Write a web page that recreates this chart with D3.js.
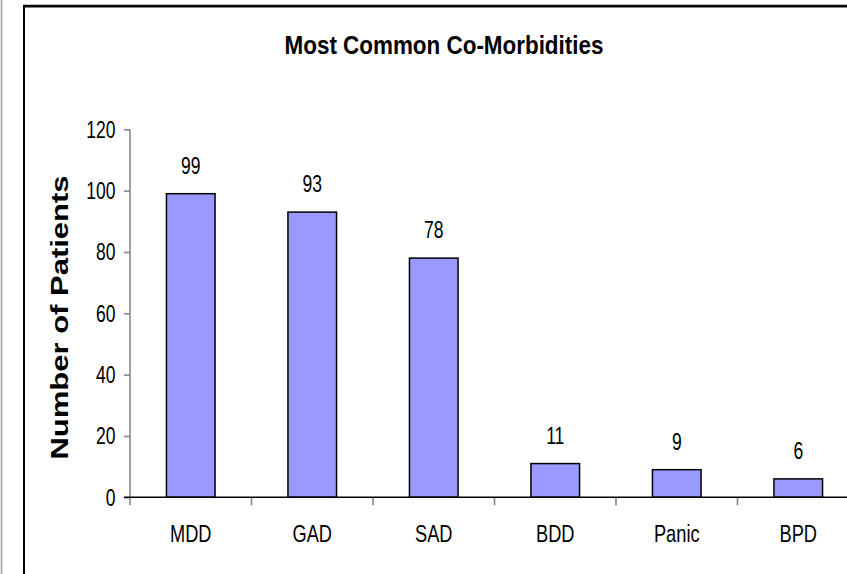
<!DOCTYPE html>
<html>
<head>
<meta charset="utf-8">
<script src="https://cdn.jsdelivr.net/npm/d3@7"></script>
<style>
  body { margin: 0; background: #fff; }
  text { font-family: "Liberation Sans", Arial, sans-serif; fill: #000; }
</style>
</head>
<body>
<svg id="chart" width="847" height="574"></svg>
<script>
// data
var categories = ["MDD", "GAD", "SAD", "BDD", "Panic", "BPD"];
var patients = [99, 93, 78, 11, 9, 6];
var yTicks = [0, 20, 40, 60, 80, 100, 120];

var svg = d3.select("#chart");

// outer frame bits
svg.append("line").attr("x1", 1.5).attr("x2", 1.5).attr("y1", 0).attr("y2", 574)
    .style("stroke", "#a0a0a0").style("stroke-width", 1.5);
svg.append("line").attr("x1", 24).attr("x2", 847).attr("y1", 7.5).attr("y2", 7.5)
    .style("stroke", "#b0b0b0").style("stroke-width", 1);
svg.append("line").attr("x1", 23).attr("x2", 847).attr("y1", 6).attr("y2", 6)
    .style("stroke", "#000").style("stroke-width", 2.5);
svg.append("line").attr("x1", 24).attr("x2", 24).attr("y1", 5).attr("y2", 574)
    .style("stroke", "#000").style("stroke-width", 2);

var x = d3.scaleBand().domain(categories).range([130, 859])
    .paddingInner(0.6).paddingOuter(0.3);
var y = d3.scaleLinear().domain([0, 120]).range([497.3, 129.3]);
var step = x.step();

// y axis
var yAxis = svg.append("g").attr("transform", "translate(130,0)")
    .call(d3.axisLeft(y).tickValues(yTicks).tickSize(6).tickSizeOuter(0).tickFormat(""));
yAxis.select(".domain").style("stroke", "#808080").style("stroke-width", 1.5)
    .attr("d", "M0," + y(120) + "V" + (y(0) + 8));
yAxis.selectAll(".tick line").style("stroke", "#808080").style("stroke-width", 1.5);

svg.selectAll(".ylab").data(yTicks).enter().append("text")
    .attr("class", "ylab")
    .attr("transform", function(d) { return "translate(115.5," + (y(d) + 8.5) + ") scale(0.73,1)"; })
    .attr("text-anchor", "end")
    .style("font-size", "24px")
    .text(function(d) { return d; });

// category ticks between bands
var bounds = d3.range(1, categories.length).map(function(i) { return 130 + i * step; });
svg.selectAll(".xtick").data(bounds).enter().append("line")
    .attr("x1", function(d) { return d; }).attr("x2", function(d) { return d; })
    .attr("y1", y(0)).attr("y2", y(0) + 8)
    .style("stroke", "#808080").style("stroke-width", 1.5);

// bars
svg.selectAll(".bar").data(patients).enter().append("rect")
    .attr("class", "bar")
    .attr("x", function(d, i) { return x(categories[i]); })
    .attr("width", x.bandwidth())
    .attr("y", function(d) { return y(d); })
    .attr("height", function(d) { return y(0) - y(d); })
    .style("fill", "#9999ff").style("stroke", "#000").style("stroke-width", 1.5);

// x axis line
svg.append("line").attr("x1", 124).attr("x2", 847).attr("y1", y(0)).attr("y2", y(0))
    .style("stroke", "#000").style("stroke-width", 1.5);

// value labels
svg.selectAll(".val").data(patients).enter().append("text")
    .attr("transform", function(d, i) {
      return "translate(" + (x(categories[i]) + x.bandwidth() / 2) + "," + (y(d) - 20) + ") scale(0.73,1)";
    })
    .attr("text-anchor", "middle")
    .style("font-size", "24px")
    .text(function(d) { return d; });

// category labels
svg.selectAll(".cat").data(categories).enter().append("text")
    .attr("transform", function(d) {
      return "translate(" + (x(d) + x.bandwidth() / 2) + ",541.5) scale(0.76,1)";
    })
    .attr("text-anchor", "middle")
    .style("font-size", "24px")
    .text(function(d) { return d; });

// title
svg.append("text")
    .attr("transform", "translate(444,54.3) scale(0.88,1)")
    .attr("text-anchor", "middle")
    .style("font-size", "25.5px").style("font-weight", "bold")
    .text("Most Common Co-Morbidities");

// y axis title
svg.append("text")
    .attr("transform", "translate(68,317.5) scale(0.8,1) rotate(-90)")
    .attr("text-anchor", "middle")
    .style("font-size", "31px").style("font-weight", "bold")
    .text("Number of Patients");
</script>
</body>
</html>
